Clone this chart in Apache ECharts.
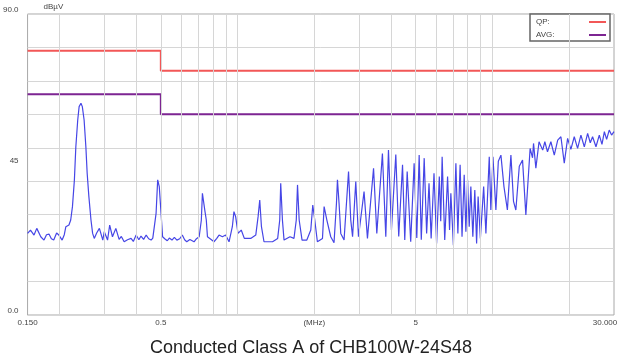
<!DOCTYPE html>
<html>
<head>
<meta charset="utf-8">
<script src="https://cdn.jsdelivr.net/npm/echarts@6/dist/echarts.min.js"></script>
<style>
  html, body { margin: 0; padding: 0; background: #fff; }
  #chart { width: 622px; height: 363px; }
</style>
</head>
<body>
<div id="chart"></div>
<script>
// frequency (MHz) and level (dBuV) of the measured trace
var traceFreq = [
  0.150, 0.154, 0.159, 0.163, 0.169, 0.174, 0.178, 0.182, 0.186, 0.190,
  0.195, 0.199, 0.205, 0.209, 0.212, 0.218, 0.2215, 0.225, 0.229, 0.232,
  0.236, 0.239, 0.243, 0.246, 0.250, 0.254, 0.257, 0.261, 0.266, 0.270,
  0.274, 0.280, 0.287, 0.296, 0.300, 0.309, 0.315, 0.323, 0.333, 0.343,
  0.350, 0.359, 0.370, 0.382, 0.390, 0.400, 0.410, 0.418, 0.428, 0.438,
  0.448, 0.458, 0.465, 0.472, 0.479, 0.486, 0.493, 0.501, 0.508, 0.518,
  0.530, 0.540, 0.553, 0.565, 0.578, 0.593, 0.607, 0.620, 0.632, 0.650,
  0.675, 0.690, 0.707, 0.721, 0.728, 0.736, 0.745, 0.754, 0.762, 0.790,
  0.808, 0.829, 0.846, 0.872, 0.898, 0.926, 0.954, 0.968, 0.983, 1.004,
  1.034, 1.063, 1.126, 1.179, 1.204, 1.222, 1.241, 1.270, 1.372, 1.437,
  1.464, 1.477, 1.500, 1.522, 1.606, 1.665, 1.700, 1.719, 1.745, 1.791,
  1.870, 1.938, 1.973, 2.009, 2.057, 2.154, 2.186, 2.241, 2.321, 2.391,
  2.444, 2.466, 2.502, 2.541, 2.618, 2.726, 2.781, 2.827, 2.910, 2.982,
  3.136, 3.234, 3.417, 3.519, 3.702, 3.817, 3.910, 4.017, 4.178, 4.29,
  4.44, 4.53, 4.63, 4.78, 4.93, 5.05, 5.16, 5.26, 5.40, 5.52,
  5.64, 5.75, 5.90, 6.04, 6.19, 6.27, 6.35, 6.50, 6.67, 6.79,
  6.87, 7.03, 7.19, 7.32, 7.47, 7.60, 7.75, 7.87, 7.99, 8.11,
  8.23, 8.38, 8.53, 8.67, 8.79, 8.97, 9.24, 9.43, 9.72, 9.86,
  10.05, 10.32, 10.55, 10.80, 11.1, 11.45, 11.82, 12.1, 12.36, 12.75,
  13.13, 13.53, 14.06, 14.37, 14.50, 14.81, 15.24, 15.75, 16.06, 16.45,
  16.96, 17.49, 18.04, 18.57, 19.14, 19.73, 20.32, 20.95, 21.59, 22.25,
  22.94, 23.64, 24.21, 24.72, 25.49, 26.27, 26.91, 27.5, 28.07, 28.73,
  29.35, 30.0
];
var traceLevel = [
  24.4, 25.4, 23.9, 25.9, 23.4, 22.4, 24.0, 24.2, 22.8, 22.4,
  24.5, 23.9, 22.4, 24.0, 26.4, 26.9, 28.4, 32.4, 40.4, 50.3,
  58.3, 62.3, 63.3, 62.3, 58.3, 50.3, 42.4, 35.4, 28.4, 24.4,
  22.9, 24.5, 25.9, 22.4, 24.9, 22.4, 26.9, 23.4, 25.9, 22.6,
  23.5, 21.9, 22.5, 22.9, 22.0, 23.9, 22.5, 23.6, 22.6, 23.9,
  22.8, 22.4, 23.0, 23.4, 30.4, 40.4, 38.4, 30.4, 23.4, 22.8,
  22.2, 23.0, 22.4, 23.2, 22.4, 22.8, 23.9, 22.5, 21.9, 22.6,
  21.9, 22.8, 23.4, 28.4, 36.4, 36.9, 31.0, 28.4, 23.4, 22.5,
  21.9, 22.9, 23.9, 23.4, 23.9, 21.9, 26.4, 30.9, 29.4, 24.4,
  25.4, 22.9, 22.9, 23.9, 29.4, 34.4, 26.4, 21.9, 21.9, 22.9,
  28.4, 39.4, 28.4, 22.4, 23.4, 22.9, 28.4, 38.9, 28.4, 22.4,
  22.4, 25.4, 32.9, 28.4, 21.9, 22.9, 32.4, 28.4, 23.4, 21.6,
  33.4, 40.4, 33.4, 24.4, 22.4, 42.9, 28.4, 23.4, 39.9, 23.4,
  36.9, 22.9, 43.9, 24.4, 48.3, 23.4, 49.3, 25.4, 48.0, 23.5,
  44.9, 22.4, 42.9, 21.9, 45.4, 23.0, 47.8, 22.5, 46.9, 24.4,
  39.4, 22.9, 42.4, 21.4, 41.4, 28.0, 47.3, 22.4, 41.4, 25.4,
  36.4, 20.9, 45.4, 24.4, 44.9, 23.4, 41.9, 24.9, 40.4, 26.4,
  38.4, 23.4, 37.4, 21.4, 35.4, 22.9, 38.4, 24.4, 47.3, 31.4,
  47.3, 31.4, 46.0, 47.8, 38.4, 31.4, 47.8, 34.0, 31.4, 44.5,
  46.3, 29.9, 49.8, 47.0, 51.3, 43.9, 51.8, 49.3, 51.8, 48.8,
  51.8, 47.8, 52.3, 53.3, 45.4, 52.8, 49.5, 53.3, 49.8, 53.8,
  50.3, 54.3, 51.5, 53.3, 50.3, 53.8, 51.0, 54.8, 52.5, 55.3,
  53.8, 54.8
];

// CISPR 22 class A limits
var qpFreq = [0.15, 0.5, 0.5, 30];
var qpLevel = [79, 79, 73, 73];
var avgFreq = [0.15, 0.5, 0.5, 30];
var avgLevel = [66, 66, 60, 60];

// log grid lines and x tick labels
var gridFreqs = [0.2, 0.3, 0.4, 0.5, 0.6, 0.7, 0.8, 0.9, 1, 2, 3, 4, 5, 6, 7, 8, 9, 10, 20];
var xLabelFreqs = [0.15, 0.5, 2, 5, 30];
var xLabels = ['0.150', '0.5', '(MHz)', '5', '30.000'];
var yLabelValues = [0, 45, 90];

function pairs(xs, ys) {
  return xs.map(function (x, i) { return [x, ys[i]]; });
}

var myChart = echarts.init(document.getElementById('chart'));
var font = "'Liberation Sans', Arial, sans-serif";

var option = {
  animation: false,
  backgroundColor: '#fff',
  title: {
    text: 'Conducted Class A of CHB100W-24S48',
    left: 'center',
    bottom: 1,
    textStyle: { color: '#222', fontSize: 18, fontWeight: 'normal', fontFamily: font }
  },
  legend: {
    orient: 'vertical',
    right: 12,
    top: 14,
    align: 'right',
    icon: 'rect',
    itemWidth: 17,
    itemHeight: 2,
    itemGap: 5,
    padding: [4, 4, 2, 6],
    borderColor: '#666',
    borderWidth: 1.5,
    backgroundColor: '#fff',
    data: ['QP:', 'AVG:'],
    formatter: '{a|{name}}',
    textStyle: {
      fontSize: 8, color: '#444', fontFamily: font,
      rich: { a: { width: 48, align: 'left', fontSize: 8, color: '#444', fontFamily: font } }
    }
  },
  grid: {
    left: 27,
    right: 8,
    top: 14,
    bottom: 48,
    show: true,
    borderColor: '#a8a8a8',
    borderWidth: 1
  },
  xAxis: {
    type: 'log',
    logBase: 10,
    min: 0.15,
    max: 30,
    axisLine: { show: false },
    axisTick: { show: false },
    axisLabel: { show: false },
    splitLine: { show: false }
  },
  yAxis: {
    type: 'value',
    min: 0,
    max: 90,
    interval: 10,
    name: 'dBµV',
    nameLocation: 'end',
    nameGap: 3,
    nameTextStyle: { fontSize: 8, color: '#444', align: 'left', padding: [0, 0, 0, 16], fontFamily: font },
    axisLine: { show: false },
    axisTick: { show: false },
    axisLabel: {
      customValues: yLabelValues,
      fontSize: 8,
      color: '#444',
      margin: 9,
      verticalAlign: 'bottom',
      fontFamily: font,
      formatter: function (v) { return v === 45 ? '45' : v.toFixed(1); }
    },
    splitLine: { lineStyle: { color: '#d6d6d6', width: 1 } }
  },
  series: [
    {
      name: 'grid',
      type: 'line',
      data: [],
      z: 1,
      silent: true,
      markLine: {
        silent: true,
        symbol: ['none', 'none'],
        label: { show: false },
        lineStyle: { color: '#d6d6d6', width: 1, type: 'solid' },
        data: gridFreqs.map(function (f) { return { xAxis: f }; })
      }
    },
    {
      name: 'xlabels',
      type: 'line',
      data: [],
      z: 1,
      silent: true,
      markLine: {
        silent: true,
        symbol: ['none', 'none'],
        lineStyle: { color: 'rgba(0,0,0,0)', width: 0 },
        label: { show: true, position: 'start', distance: 4, fontSize: 8, color: '#444', fontFamily: font },
        data: xLabelFreqs.map(function (f, i) {
          var item = { xAxis: f, label: { formatter: xLabels[i] } };
          if (i === xLabelFreqs.length - 1) item.label.padding = [0, 18, 0, 0];
          return item;
        })
      }
    },
    {
      name: 'trace',
      type: 'line',
      data: pairs(traceFreq, traceLevel),
      showSymbol: false,
      z: 3,
      lineStyle: { color: '#4646e6', width: 1.2 },
      itemStyle: { color: '#4646e6' }
    },
    {
      name: 'QP:',
      type: 'line',
      data: pairs(qpFreq, qpLevel),
      showSymbol: false,
      z: 4,
      lineStyle: { color: '#f25757', width: 2 },
      itemStyle: { color: '#f25757' }
    },
    {
      name: 'AVG:',
      type: 'line',
      data: pairs(avgFreq, avgLevel),
      showSymbol: false,
      z: 4,
      lineStyle: { color: '#7d2592', width: 2 },
      itemStyle: { color: '#7d2592' }
    }
  ]
};

option && myChart.setOption(option);
</script>
</body>
</html>
